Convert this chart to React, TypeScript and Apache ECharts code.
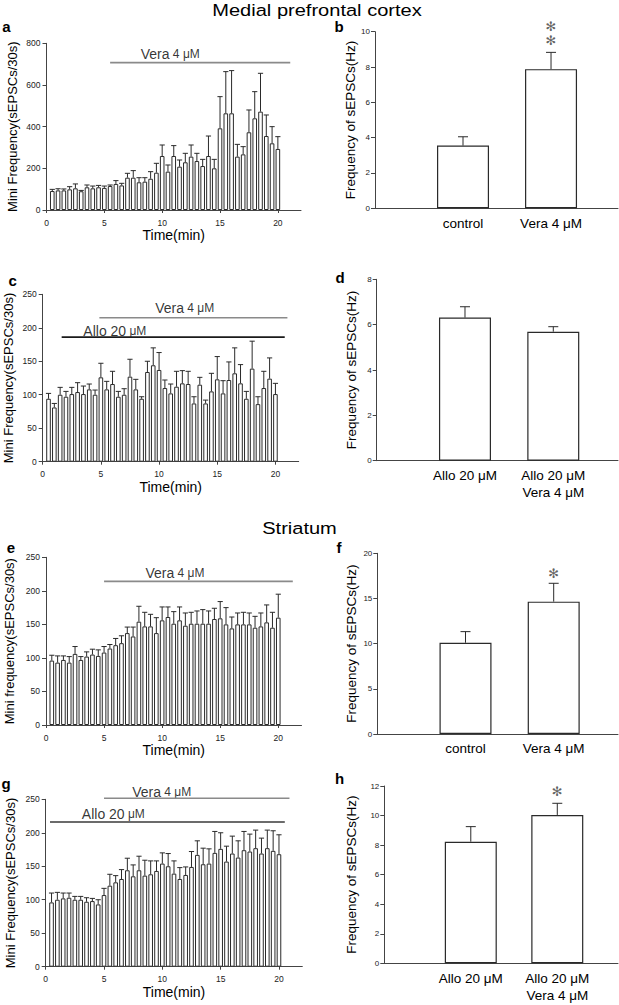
import React, { useEffect, useRef } from 'react';
import * as echarts from 'echarts';

const FONT = '"Liberation Sans", Arial, Helvetica, sans-serif';

// time points of the 30-s bins (min)
const timeMin = [0.5, 1, 1.5, 2, 2.5, 3, 3.5, 4, 4.5, 5, 5.5, 6, 6.5, 7, 7.5, 8, 8.5, 9, 9.5, 10,
  10.5, 11, 11.5, 12, 12.5, 13, 13.5, 14, 14.5, 15, 15.5, 16, 16.5, 17, 17.5, 18, 18.5, 19, 19.5, 20];
const timeTicks = [0, 5, 10, 15, 20];

// panel a : mPFC, Vera 4 uM
const aMean = [91, 94, 94, 99, 104, 90, 109, 104, 109, 106, 115, 125, 118, 155, 155, 133, 136, 150, 179, 259,
  184, 259, 208, 229, 256, 235, 211, 259, 200, 392, 464, 464, 256, 267, 373, 440, 472, 355, 320, 293];
const aSem = [8, 8, 7, 13, 21, 4, 11, 11, 9, 9, 5, 16, 10, 21, 34, 22, 19, 34, 45, 53,
  32, 50, 32, 43, 56, 37, 32, 96, 43, 152, 200, 205, 59, 37, 107, 128, 184, 101, 80, 59];

// panel c : mPFC, Allo 20 uM + Vera 4 uM
const cMean = [94, 81, 100, 97, 101, 104, 101, 108, 100, 126, 108, 116, 97, 100, 127, 108, 94, 134, 144, 137,
  110, 102, 112, 117, 116, 87, 115, 87, 105, 123, 102, 122, 132, 117, 94, 139, 86, 110, 124, 101];
const cSem = [8, 6, 11, 8, 10, 14, 12, 8, 7, 21, 12, 19, 8, 9, 26, 15, 3, 16, 26, 26,
  12, 14, 23, 19, 19, 10, 11, 5, 27, 34, 19, 27, 38, 28, 11, 41, 11, 25, 31, 16];

// panel e : striatum, Vera 4 uM
const eMean = [96, 93, 97, 93, 106, 97, 102, 105, 103, 108, 114, 119, 122, 137, 132, 154, 147, 147, 137, 156,
  161, 151, 156, 148, 151, 151, 151, 151, 158, 159, 150, 144, 150, 150, 150, 145, 147, 153, 145, 160];
const eSem = [8, 10, 6, 9, 11, 5, 7, 8, 9, 9, 6, 10, 11, 9, 14, 23, 21, 18, 23, 20,
  15, 18, 20, 19, 17, 19, 21, 19, 16, 25, 25, 17, 17, 18, 17, 17, 20, 26, 23, 35];

// panel g : striatum, Allo 20 uM + Vera 4 uM
const gMean = [96, 100, 102, 103, 100, 100, 97, 98, 93, 107, 121, 126, 131, 144, 135, 144, 136, 138, 143, 154,
  150, 139, 131, 137, 149, 167, 153, 154, 170, 176, 157, 169, 163, 174, 172, 177, 169, 177, 173, 168];
const gSem = [14, 11, 8, 7, 5, 5, 6, 4, 7, 10, 17, 10, 14, 18, 17, 21, 23, 20, 15, 16,
  19, 19, 17, 12, 23, 21, 24, 22, 32, 24, 23, 26, 25, 28, 26, 27, 23, 27, 30, 29];

// treatment bars: [start min, end min, level]
const aVera = [5.5, 21.07, 707];
const cVera = [4.87, 21.03, 215];
const cAllo = [1.63, 20.8, 186];
const eVera = [5.0, 21.25, 214];
const gVera = [5.0, 20.9, 251.5];
const gAllo = [0.37, 20.5, 216];

// summary panels
const ctrlGroups = ['control', 'Vera 4 \u03bcM'];
const alloGroups = ['Allo 20 \u03bcM', 'Allo 20 \u03bcM\nVera 4 \u03bcM'];
const bMean = [3.55, 7.88];
const bSem = [0.5, 0.95];
const dMean = [6.31, 5.69];
const dSem = [0.48, 0.22];
const fMean = [10.1, 14.65];
const fSem = [1.23, 2.03];
const hMean = [8.23, 10.04];
const hSem = [1.02, 0.79];
// significance marks: [group position, level, number of asterisks]
const bStars = [2, 9.9, 2];
const fStars = [2, 17.8, 1];
const hStars = [2, 11.6, 1];

const AX = '#444';

function errRender(capHalf: number) {
  return (params: any, api: any) => {
    const x = api.value(0);
    const m = api.value(1);
    const s = api.value(2);
    const base = api.coord([x, m]);
    const top = api.coord([x, m + s]);
    const st = { stroke: '#2a2a2a', lineWidth: 1 };
    return {
      type: 'group',
      children: [
        { type: 'line', shape: { x1: base[0], y1: base[1], x2: top[0], y2: top[1] }, style: st },
        { type: 'line', shape: { x1: top[0] - capHalf, y1: top[1], x2: top[0] + capHalf, y2: top[1] }, style: st },
      ],
    };
  };
}

const treatRich = {
  a: { fontSize: 14, fontFamily: FONT, color: '#000' },
  b: { fontSize: 12, fontFamily: FONT, color: '#000' },
};

export default function App() {
  const ref = useRef<HTMLDivElement>(null);
  useEffect(() => {
    if (!ref.current) return;
    const chart = echarts.init(ref.current, undefined, { renderer: 'svg' });

    const grids: any[] = [];
    const xAxes: any[] = [];
    const yAxes: any[] = [];
    const series: any[] = [];

    const leftPanel = (
      gi: number, box: number[], yMax: number, yInt: number, yName: string, yGap: number, xGap: number,
      mean: number[], sem: number[],
      lines: { d: number[]; color: string; width: number }[],
      labels: { x: number; y: number; text: string }[],
    ) => {
      grids.push({ left: box[0], top: box[1], width: box[2], height: box[3], outerBoundsMode: 'none' });
      xAxes.push({
        gridIndex: gi, type: 'value', min: 0, max: 22,
        name: 'Time(min)', nameLocation: 'middle', nameGap: xGap,
        nameTextStyle: { fontSize: 14, color: '#000', fontFamily: FONT, fontWeight: 'normal' },
        axisLine: { show: true, onZero: false, lineStyle: { color: AX, width: 1 } },
        axisTick: { show: true, length: 3, customValues: timeTicks, lineStyle: { color: AX } },
        axisLabel: { customValues: timeTicks, fontSize: 8.5, color: '#222', margin: 8, fontFamily: FONT },
        splitLine: { show: false },
      });
      yAxes.push({
        gridIndex: gi, type: 'value', min: 0, max: yMax, interval: yInt,
        name: yName, nameLocation: 'middle', nameGap: yGap,
        nameTextStyle: { fontSize: 13, color: '#000', fontFamily: FONT, fontWeight: 'normal' },
        axisLine: { show: true, onZero: false, lineStyle: { color: AX, width: 1 } },
        axisTick: { show: true, length: 4, lineStyle: { color: AX } },
        axisLabel: { fontSize: 8.5, color: '#222', margin: 6, fontFamily: FONT },
        splitLine: { show: false },
      });
      series.push({
        type: 'bar', xAxisIndex: gi, yAxisIndex: gi, barWidth: 4.6, silent: true,
        data: timeMin.map((t, k) => [t, mean[k]]),
        itemStyle: { color: '#fff', borderColor: '#2a2a2a', borderWidth: 1 },
      });
      series.push({
        type: 'custom', xAxisIndex: gi, yAxisIndex: gi, silent: true, z: 3,
        data: timeMin.map((t, k) => [t, mean[k], sem[k]]),
        encode: { x: 0, y: 1 },
        renderItem: errRender(2.6),
      });
      lines.forEach((l) => {
        series.push({
          type: 'line', xAxisIndex: gi, yAxisIndex: gi, silent: true, clip: false,
          symbol: 'none', data: [[l.d[0], l.d[2]], [l.d[1], l.d[2]]],
          lineStyle: { color: l.color, width: l.width },
        });
      });
      series.push({
        type: 'scatter', xAxisIndex: gi, yAxisIndex: gi, silent: true, clip: false,
        symbolSize: 1, itemStyle: { color: 'transparent' },
        data: labels.map((lb) => ({ value: [lb.x, lb.y], label: { formatter: lb.text } })),
        label: { show: true, position: 'inside', rich: treatRich, color: '#000', fontFamily: FONT, fontSize: 12 },
      });
    };

    const rightPanel = (
      gi: number, box: number[], xMax: number, yMax: number, yInt: number, yGap: number,
      groups: string[], mean: number[], sem: number[], stars: number[] | null,
    ) => {
      grids.push({ left: box[0], top: box[1], width: box[2], height: box[3], outerBoundsMode: 'none' });
      xAxes.push({
        gridIndex: gi, type: 'value', min: 0, max: xMax,
        axisLine: { show: true, onZero: false, lineStyle: { color: AX, width: 1 } },
        axisTick: { show: false },
        axisLabel: {
          customValues: [1, 2], fontSize: 13.5, color: '#000', margin: 6, lineHeight: 17.5, fontFamily: FONT,
          formatter: (v: number) => groups[Math.round(v) - 1] ?? '',
        },
        splitLine: { show: false },
      });
      yAxes.push({
        gridIndex: gi, type: 'value', min: 0, max: yMax, interval: yInt,
        name: 'Frequency of sEPSCs(Hz)', nameLocation: 'middle', nameGap: yGap,
        nameTextStyle: { fontSize: 13.5, color: '#000', fontFamily: FONT, fontWeight: 'normal' },
        axisLine: { show: true, onZero: false, lineStyle: { color: AX, width: 1 } },
        axisTick: { show: true, length: 4, lineStyle: { color: AX } },
        axisLabel: { fontSize: 8, color: '#222', margin: 5, fontFamily: FONT },
        splitLine: { show: false },
      });
      series.push({
        type: 'bar', xAxisIndex: gi, yAxisIndex: gi, barWidth: 52, silent: true,
        data: mean.map((m, k) => [k + 1, m]),
        itemStyle: { color: '#fff', borderColor: '#2a2a2a', borderWidth: 1.2 },
      });
      series.push({
        type: 'custom', xAxisIndex: gi, yAxisIndex: gi, silent: true, z: 3,
        data: mean.map((m, k) => [k + 1, m, sem[k]]),
        encode: { x: 0, y: 1 },
        renderItem: errRender(5),
      });
      if (stars) {
        series.push({
          type: 'scatter', xAxisIndex: gi, yAxisIndex: gi, silent: true, clip: false,
          symbolSize: 1, itemStyle: { color: 'transparent' },
          data: [[stars[0], stars[1]]],
          label: {
            show: true, position: 'inside',
            formatter: Array(stars[2]).fill('\u273B').join('\n'),
            fontSize: 13, lineHeight: 13.3,
            fontFamily: '"DejaVu Sans", sans-serif', color: '#3a3a3a',
          },
        });
      }
    };

    // left column
    leftPanel(0, [46.5, 43.3, 254.5, 166.7], 800, 200, 'Mini Frequency(sEPSCs/30s)', 27.5, 17, aMean, aSem,
      [{ d: aVera, color: '#8a8a8a', width: 1.7 }],
      [{ x: 10.7, y: 750, text: '{a|Vera} {b|4 \u03bcM}' }]);
    rightPanel(1, [375, 31.7, 243, 176.6], 2.761, 10, 2, 17, ctrlGroups, bMean, bSem, bStars);
    leftPanel(2, [42.7, 294.3, 256, 167.4], 250, 50, 'Mini Frequency(sEPSCs/30s)', 28, 17, cMean, cSem,
      [{ d: cVera, color: '#8a8a8a', width: 1.4 }, { d: cAllo, color: '#1a1a1a', width: 1.6 }],
      [{ x: 12.2, y: 229, text: '{a|Vera} {b|4 \u03bcM}' }, { x: 6.2, y: 195, text: '{a|Allo 20} {b|\u03bcM}' }]);
    rightPanel(3, [376.7, 279.3, 241.3, 181.4], 2.733, 8, 2, 18.5, alloGroups, dMean, dSem, null);
    leftPanel(4, [46, 557.3, 255.5, 167.7], 250, 50, 'Mini frequency(sEPSCs/30s)', 30.5, 14, eMean, eSem,
      [{ d: eVera, color: '#8a8a8a', width: 1.7 }],
      [{ x: 11.1, y: 227, text: '{a|Vera} {b|4 \u03bcM}' }]);
    rightPanel(5, [377.3, 553.3, 240.7, 180.7], 2.729, 20, 5, 19, ctrlGroups, fMean, fSem, fStars);
    leftPanel(6, [45.7, 799.3, 256.6, 167.4], 250, 50, 'Mini Frequency(sEPSCs/30s)', 28.5, 16, gMean, gSem,
      [{ d: gVera, color: '#8a8a8a', width: 1.5 }, { d: gAllo, color: '#3a3a3a', width: 1.6 }],
      [{ x: 9.95, y: 261, text: '{a|Vera} {b|4 \u03bcM}' }, { x: 5.8, y: 228, text: '{a|Allo 20} {b|\u03bcM}' }]);
    rightPanel(7, [384.3, 786, 233.7, 177.3], 2.702, 12, 2, 26, alloGroups, hMean, hSem, hStars);

    const letter = (t: string, x: number, y: number) => ({
      type: 'text', x, y,
      style: { text: t, font: `bold 15px ${FONT}`, fill: '#000', textAlign: 'center', textVerticalAlign: 'middle' },
    });

    chart.setOption({
      animation: false,
      backgroundColor: '#fff',
      textStyle: { fontFamily: FONT },
      grid: grids,
      xAxis: xAxes,
      yAxis: yAxes,
      series,
      graphic: [
        {
          type: 'text', x: 317, y: 10.5, scaleX: 1.18,
          style: { text: 'Medial prefrontal cortex', font: `17px ${FONT}`, fill: '#000', textAlign: 'center', textVerticalAlign: 'middle' },
        },
        {
          type: 'text', x: 299.5, y: 528, scaleX: 1.18,
          style: { text: 'Striatum', font: `17px ${FONT}`, fill: '#000', textAlign: 'center', textVerticalAlign: 'middle' },
        },
        letter('a', 6.5, 26),
        letter('b', 339, 26),
        letter('c', 12.7, 280),
        letter('d', 340, 277),
        letter('e', 11, 547),
        letter('f', 339, 547),
        letter('g', 6, 783),
        letter('h', 339.5, 778),
      ],
    });
    return () => chart.dispose();
  }, []);
  return <div ref={ref} style={{ position: 'absolute', left: 0, top: 0, width: 619, height: 1005 }} />;
}
